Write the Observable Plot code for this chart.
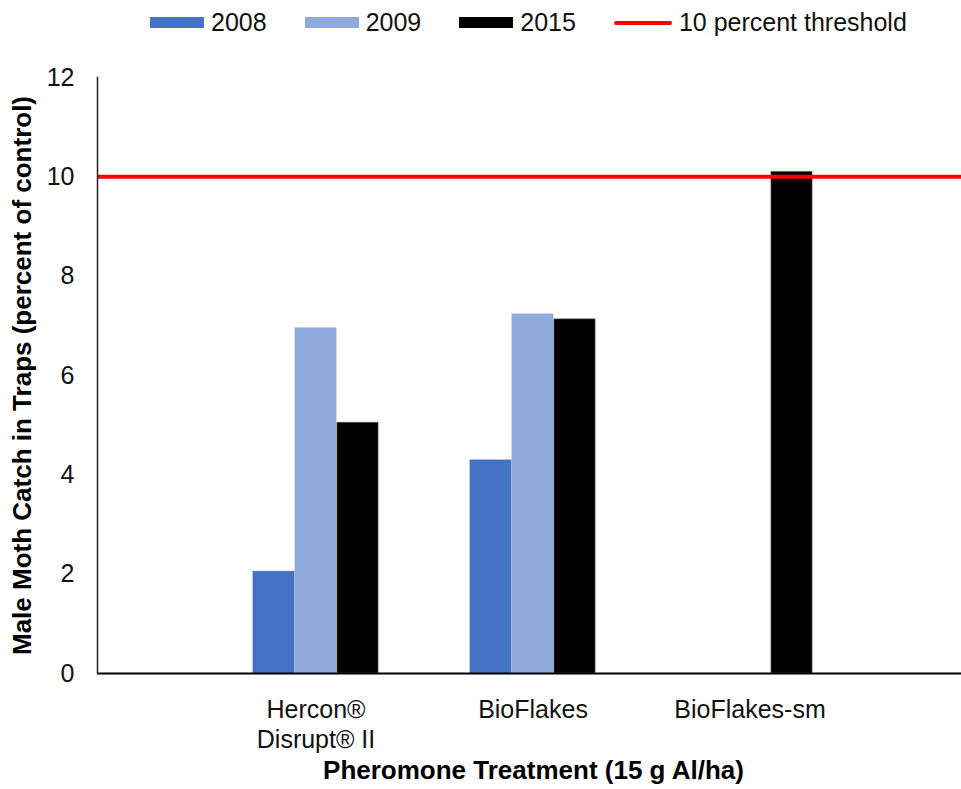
<!DOCTYPE html>
<html>
<head>
<meta charset="utf-8">
<script src="https://cdn.jsdelivr.net/npm/d3@7"></script>
<script src="https://cdn.jsdelivr.net/npm/@observablehq/plot@0.6"></script>
<style>
  body { margin: 0; background: #fff; font-family: "Liberation Sans", Arial, sans-serif; }
  #legend { height: 45px; display: flex; align-items: center; padding-left: 150px; box-sizing: border-box; font-size: 25px; color: #111; }
  .item { display: flex; align-items: center; margin-right: 38px; }
  .sw { width: 54px; height: 11px; margin-right: 7px; }
  .ln { width: 58px; height: 4px; border-radius: 2px; margin-right: 7px; }
</style>
</head>
<body>
<div id="legend"></div>
<div id="chart"></div>
<script>
const categories = ["Hercon®\nDisrupt® II", "BioFlakes", "BioFlakes-sm"];
const years = ["2008", "2009", "2015"];
const colors = ["#4472C4", "#8FAADC", "#000000"];
const values2008 = [2.05, 4.29, null];
const values2009 = [6.95, 7.23, null];
const values2015 = [5.05, 7.13, 10.1];
const threshold = 10;
const thresholdLabel = "10 percent threshold";
const yTicks = [0, 2, 4, 6, 8, 10, 12];
const yTitle = "Male Moth Catch in Traps (percent of control)";
const xTitle = "Pheromone Treatment (15 g Al/ha)";

const seriesValues = [values2008, values2009, values2015];
const data = [];
years.forEach((yr, i) => categories.forEach((c, j) => {
  if (seriesValues[i][j] != null) data.push({category: c, year: yr, value: seriesValues[i][j]});
}));

// legend
const legend = document.getElementById("legend");
years.forEach((yr, i) => {
  const it = document.createElement("div"); it.className = "item";
  it.innerHTML = `<div class="sw" style="background:${colors[i]}"></div><span>${yr}</span>`;
  legend.appendChild(it);
});
{
  const it = document.createElement("div"); it.className = "item";
  it.innerHTML = `<div class="ln" style="background:#FF0000"></div><span>${thresholdLabel}</span>`;
  legend.appendChild(it);
}

const xRange = [205.6, 859.2];
const band = (xRange[1] - xRange[0]) / categories.length;
const barW = 42;
const inset = (band - barW) / 2;

const barMarks = years.map((yr, i) => Plot.barY(data.filter(d => d.year === yr), {
  x: "category", y: "value", fill: colors[i],
  stroke: i === 2 ? "#666" : colors[i], strokeWidth: 0.6,
  insetLeft: inset, insetRight: inset, dx: (i - 1) * barW
}));

const plot = Plot.plot({
  width: 961,
  height: 744,
  marginLeft: 97,
  marginRight: 0,
  marginTop: 32,
  marginBottom: 116,
  style: {fontFamily: "'Liberation Sans', Arial, sans-serif", fontSize: "25px", color: "#111", background: "#fff"},
  x: {domain: categories, range: xRange, padding: 0},
  y: {domain: [0, 12]},
  marks: [
    ...barMarks,
    Plot.ruleY([threshold], {stroke: "#FF0000", strokeWidth: 4}),
    Plot.ruleY([0], {stroke: "#000", strokeWidth: 2}),
    Plot.frame({anchor: "left", stroke: "#222", strokeWidth: 1.5}),
    Plot.axisY({ticks: yTicks, tickSize: 0, tickPadding: 23, fontSize: 25, label: null, fill: "#111"}),
    Plot.axisX({tickSize: 0, tickPadding: 23, fontSize: 25, label: null, lineHeight: 1.2, fill: "#111"}),
    Plot.text([yTitle], {frameAnchor: "left", rotate: -90, dx: -75, textAnchor: "middle", fontWeight: "bold", fontSize: 26, fill: "#000"}),
    Plot.text([xTitle], {frameAnchor: "bottom", dy: 105, dx: 4, textAnchor: "middle", fontWeight: "bold", fontSize: 26, fill: "#000"})
  ]
});
document.getElementById("chart").appendChild(plot);
</script>
</body>
</html>
